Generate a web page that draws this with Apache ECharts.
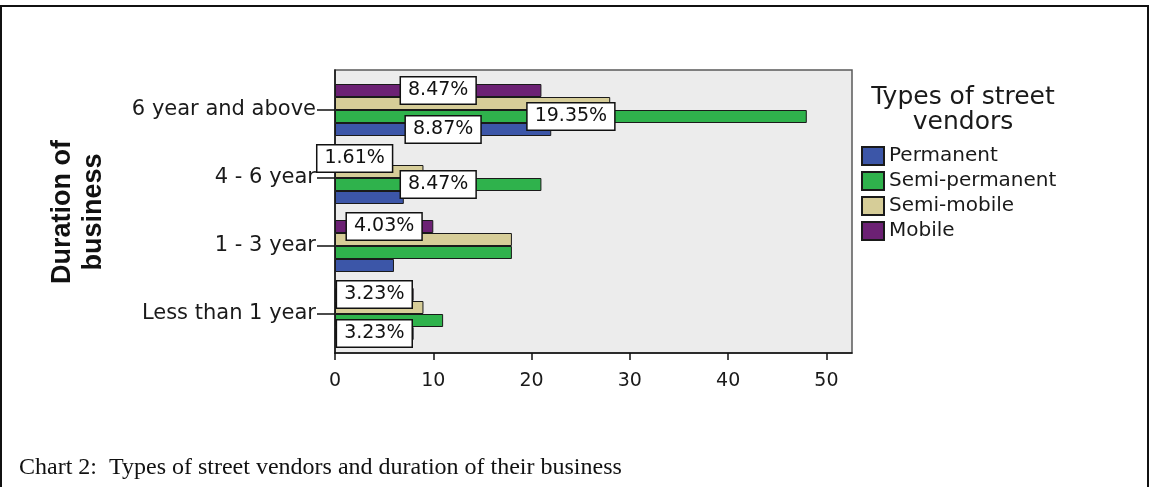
<!DOCTYPE html>
<html><head><meta charset="utf-8">
<script src="https://cdn.jsdelivr.net/npm/echarts@6/dist/echarts.min.js"></script>
<style>html,body{margin:0;padding:0;background:#fff}#c{width:1151px;height:487px}</style>
</head><body><div id="c"></div>
<script>
const categories = ['Less than 1 year', '1 - 3 year', '4 - 6 year', '6 year and above'];
const seriesNames = ['Permanent', 'Semi-permanent', 'Semi-mobile', 'Mobile'];
const permanent = [8, 6, 7, 22];
const semiPermanent = [11, 18, 21, 48];
const semiMobile = [9, 18, 9, 28];
const mobile = [8, 10, 4, 21];
const xTickValues = [0, 10, 20, 30, 40, 50];
const labelledBars = {
  'Permanent': ['Less than 1 year', '6 year and above'],
  'Semi-permanent': ['4 - 6 year', '6 year and above'],
  'Semi-mobile': [],
  'Mobile': ['Less than 1 year', '1 - 3 year', '4 - 6 year', '6 year and above']
};
const colors = ['#3c56a8', '#2fb24c', '#d6cd98', '#6c2174'];

const valueSets = [permanent, semiPermanent, semiMobile, mobile];
const total = valueSets.flat().reduce((a, b) => a + b, 0);
const FONT = 'DejaVu Sans';
const X_MAX = 52.6;

// ECharts puts the first bar series at the top of a horizontal band; SPSS stacks Permanent at the bottom.
const series = seriesNames.map((name, si) => ({
  name, type: 'bar', xAxisIndex: 1, yAxisIndex: 1,
  barWidth: 13, barGap: '0%',
  itemStyle: { color: colors[si], borderColor: '#1a1a1a', borderWidth: 1 },
  data: valueSets[si].map((v, ci) => {
    const show = labelledBars[name].includes(categories[ci]);
    return {
      value: v,
      label: {
        show, position: 'inside',
        formatter: (100 * v / total).toFixed(2) + '%',
        color: '#111', fontFamily: FONT, fontSize: 19,
        backgroundColor: '#fff', borderColor: '#111', borderWidth: 1.5,
        padding: [4, 7, 3, 7]
      }
    };
  })
})).reverse();

const chart = echarts.init(document.getElementById('c'), null, { renderer: 'canvas' });
chart.setOption({
  animation: false,
  backgroundColor: '#fff',
  title: [{
    text: 'Types of street\nvendors', left: 958, top: 80, textAlign: 'center',
    textStyle: { fontFamily: FONT, fontSize: 25, fontWeight: 'normal', color: '#1a1a1a', lineHeight: 25, align: 'center' }
  }, {
    text: 'Chart 2:  Types of street vendors and duration of their business', left: 14, top: 451,
    textStyle: { fontFamily: 'Liberation Serif', fontSize: 24, fontWeight: 'normal', color: '#111' }
  }],
  legend: {
    data: seriesNames, orient: 'vertical', left: 856, top: 141,
    icon: 'rect', itemWidth: 22, itemHeight: 18, itemGap: 5,
    textStyle: { fontFamily: FONT, fontSize: 20, lineHeight: 18, color: '#1a1a1a' },
    selectedMode: false
  },
  grid: [
    { left: 335, top: 70, width: 517, height: 283, show: true, backgroundColor: '#ececec', borderColor: '#5a5a5a', borderWidth: 1.5 },
    { left: 335, top: 76, width: 517, height: 272, show: false }
  ],
  xAxis: [{
    gridIndex: 0, type: 'value', min: 0, max: X_MAX, interval: 10,
    splitLine: { show: false },
    axisLine: { show: true, lineStyle: { color: '#111', width: 1.5 } },
    axisTick: { show: true, length: 7, customValues: xTickValues, lineStyle: { color: '#111', width: 1.5 } },
    axisLabel: { customValues: xTickValues, fontFamily: FONT, fontSize: 19, color: '#1a1a1a', margin: 19 }
  }, {
    gridIndex: 1, type: 'value', min: 0, max: X_MAX, show: false, splitLine: { show: false }
  }],
  yAxis: [{
    gridIndex: 0, type: 'value', min: 0, max: 1, show: true,
    axisLine: { show: true, lineStyle: { color: '#111', width: 1.5 } },
    axisTick: { show: false }, axisLabel: { show: false }, splitLine: { show: false }
  }, {
    gridIndex: 1, type: 'category', data: categories,
    axisLine: { show: false },
    axisTick: { show: true, alignWithLabel: true, length: 18, lineStyle: { color: '#111', width: 1.5 } },
    axisLabel: { fontFamily: FONT, fontSize: 21, color: '#1a1a1a', margin: 19, padding: [8, 0, 0, 0] },
    name: 'Duration of\nbusiness', nameLocation: 'middle', nameRotate: 90, nameGap: 226,
    nameTextStyle: { fontFamily: 'Liberation Sans', fontWeight: 'bold', fontSize: 27, color: '#111', lineHeight: 31, align: 'center' }
  }],
  graphic: [{
    type: 'rect', silent: true, z: 100,
    shape: { x: 1, y: 6, width: 1147, height: 500 },
    style: { fill: 'none', stroke: '#111', lineWidth: 2 }
  }],
  series
});
</script></body></html>
